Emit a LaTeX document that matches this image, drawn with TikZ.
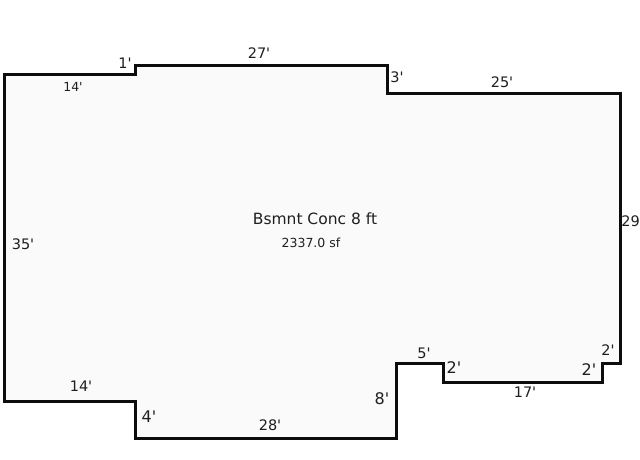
\documentclass[tikz,border=0pt]{standalone}
\usepackage{fontspec}
\setmainfont{DejaVu Sans}[Ligatures=TeXOff]
\definecolor{floorgrey}{rgb}{0.98, 0.98, 0.98}
\definecolor{wallblack}{rgb}{0.05, 0.05, 0.05}
\definecolor{labelblack}{rgb}{0.12, 0.12, 0.12}
\tikzset{
  dimlarge/.style={text=labelblack,inner sep=0pt,font=\fontsize{16}{16}\selectfont},
  dimbig/.style={text=labelblack,inner sep=0pt,font=\fontsize{14.5}{15}\selectfont},
  dimsmall/.style={text=labelblack,inner sep=0pt,font=\fontsize{12.5}{13}\selectfont},
}

\begin{document}
\begin{tikzpicture}[x=1pt,y=-1pt]
  \useasboundingbox (0,0) rectangle (640,460);

  \coordinate (A) at (4.5,74.5);
  \coordinate (B) at (135.5,74.5);
  \coordinate (C) at (135.5,65.5);
  \coordinate (D) at (387,65.5);
  \coordinate (E) at (387,93);
  \coordinate (F) at (620,93);
  \coordinate (G) at (620,363.5);
  \coordinate (H) at (602,363.5);
  \coordinate (I) at (602,382);
  \coordinate (J) at (443,382);
  \coordinate (K) at (443,363.5);
  \coordinate (L) at (396.5,363.5);
  \coordinate (M) at (396.5,438);
  \coordinate (N) at (135.5,438);
  \coordinate (P) at (135.5,401);
  \coordinate (Q) at (4.5,401);

  \draw [line width=3pt,draw=wallblack,fill=floorgrey]
    (A) -- (B) -- (C) -- (D) -- (E) -- (F) -- (G) -- (H) -- (I)
    -- (J) -- (K) -- (L) -- (M) -- (N) -- (P) -- (Q) -- cycle;

  \node [dimbig,font=\fontsize{15.5}{16}\selectfont] (title) at (315,219) {Bsmnt Conc 8 ft};

  \foreach \name / \x / \y / \label in
  {
    area/311/243/2337.0 sf, lefttop/73/87/14'
  }
  {
    \node [dimsmall] (\name) at (\x,\y) {\label};
  }

  \foreach \name / \x / \y / \label in
  {
    notcha/125/63/1', rise/397/77/3',
    top/259/53/27', right/502/82/25', side/23/244/35',
    low/81/386/14', bottom/270/425/28', notch/424/353/5',
    run/525/392/17', endb/608/350/2'
  }
  {
    \node [dimbig] (\name) at (\x,\y) {\label};
  }

  \foreach \name / \x / \y / \label in
  {
    bump/149/417/4', tall/382/399/8', stepa/454/368/2', stepb/589/370/2'
  }
  {
    \node [dimlarge] (\name) at (\x,\y) {\label};
  }

  \node [dimbig,anchor=east] (east) at (640,221) {29};
\end{tikzpicture}
\end{document}
